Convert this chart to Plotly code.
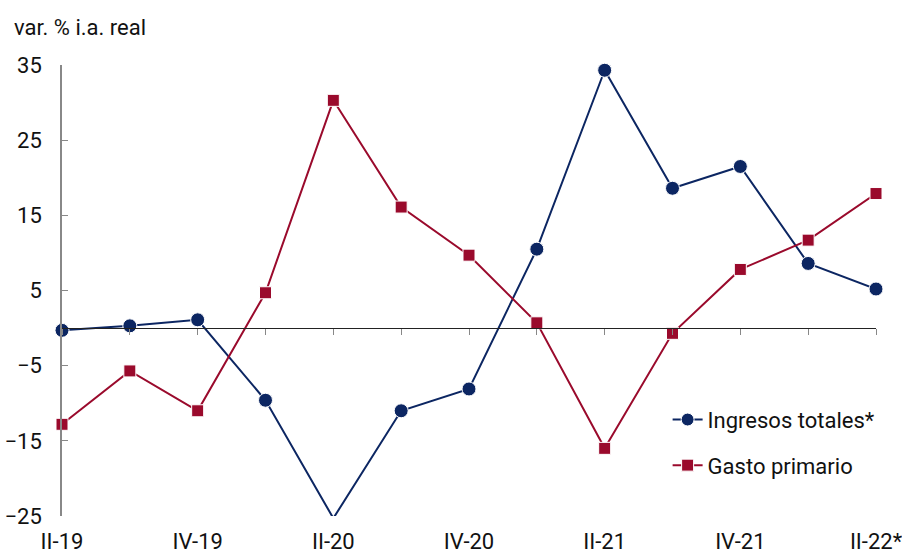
import plotly.graph_objects as go

# Quarterly real year-on-year change (%)
quarters = ["II-19", "III-19", "IV-19", "I-20", "II-20", "III-20", "IV-20",
            "I-21", "II-21", "III-21", "IV-21", "I-22", "II-22*"]
ingresos = [-0.3, 0.3, 1.1, -9.6, -25.3, -11.0, -8.1, 10.5, 34.3, 18.6, 21.5, 8.6, 5.2]
gasto = [-12.8, -5.7, -11.0, 4.7, 30.3, 16.1, 9.7, 0.7, -16.0, -0.7, 7.8, 11.7, 17.9]
label_quarters = quarters[::2]
y_ticks = [-25, -15, -5, 5, 15, 25, 35]

Y_MIN, Y_MAX = -25, 35
NAVY = "#0c2662"
RED = "#9a0a2c"
FONT = "Roboto"
FS = 22

# markers falling below the axis floor are not drawn
ing_sizes = [0 if v < Y_MIN else 14 for v in ingresos]
gas_sizes = [0 if v < Y_MIN else 12 for v in gasto]

fig = go.Figure()
fig.add_trace(go.Scatter(
    x=quarters, y=ingresos, name="Ingresos totales*", mode="lines+markers",
    line=dict(color=NAVY, width=2),
    marker=dict(symbol="circle", size=ing_sizes, color=NAVY, opacity=1),
    cliponaxis=False, legendgroup="a",
))
fig.add_trace(go.Scatter(
    x=quarters, y=gasto, name="Gasto primario", mode="lines+markers",
    line=dict(color=RED, width=2),
    marker=dict(symbol="square", size=gas_sizes, color=RED, opacity=1),
    cliponaxis=False, legendgroup="b",
))
# invisible carrier for the bottom label axis
fig.add_trace(go.Scatter(
    x=quarters, y=[0] * len(quarters), xaxis="x2", mode="lines",
    line=dict(width=0), opacity=0, showlegend=False, hoverinfo="skip",
))

n = len(quarters)
fig.update_layout(
    width=902, height=553,
    margin=dict(l=62, r=26, t=65, b=37, autoexpand=False),
    paper_bgcolor="white", plot_bgcolor="white",
    font=dict(family=FONT, size=FS, color="#111111"),
    showlegend=True,
    legend=dict(x=0.744, y=0.26, xanchor="left", yanchor="top",
                bgcolor="rgba(0,0,0,0)", tracegroupgap=14,
                font=dict(size=FS), itemwidth=30),
    xaxis=dict(
        type="category", range=[0, n - 1], anchor="free",
        position=(0 - Y_MIN) / (Y_MAX - Y_MIN),
        showline=True, linecolor="#222222", linewidth=1,
        ticks="outside", ticklen=6, tickcolor="#888888",
        showticklabels=False, showgrid=False, zeroline=False,
    ),
    xaxis2=dict(
        type="category", range=[0, n - 1], overlaying="x", anchor="y",
        side="bottom", tickvals=label_quarters, ticktext=label_quarters,
        ticks="", showline=False, showgrid=False, zeroline=False,
        tickfont=dict(size=FS), ticklabelstandoff=10,
    ),
    yaxis=dict(
        range=[Y_MIN, Y_MAX], tickvals=y_ticks,
        showline=True, linecolor="#888888", linewidth=1.5,
        ticks="inside", ticklen=6, tickcolor="#888888",
        showgrid=False, zeroline=False, ticklabelstandoff=14,
        tickfont=dict(size=FS),
    ),
    annotations=[dict(
        text="var. % i.a. real", xref="paper", yref="paper", x=0, y=1,
        xanchor="left", yanchor="bottom", xshift=-50, yshift=23,
        showarrow=False, font=dict(size=FS),
    )],
)

fig.write_html("out.html")
